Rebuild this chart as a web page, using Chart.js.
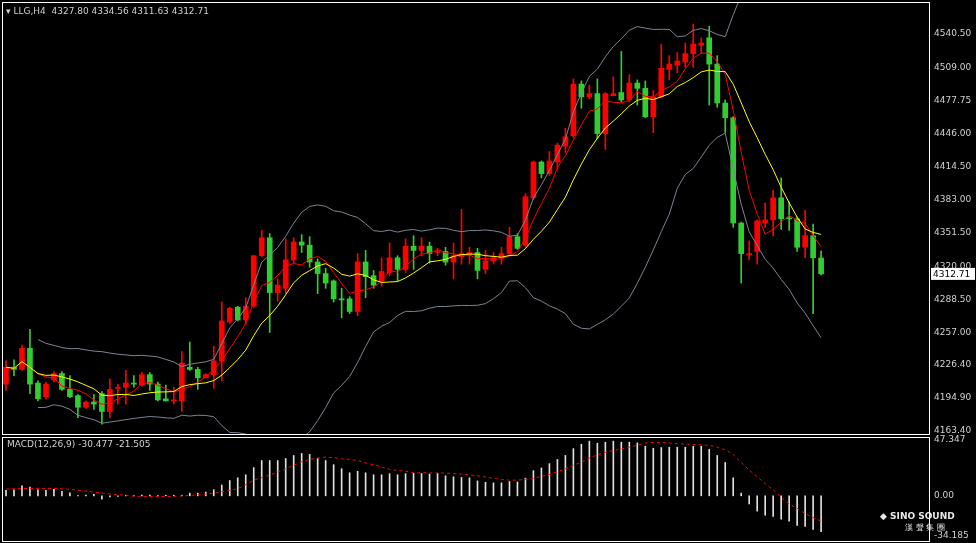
<!DOCTYPE html>
<html>
<head>
<meta charset="utf-8">
<script src="https://cdn.jsdelivr.net/npm/chart.js@4"></script>
<style>
  body { margin: 0; background: #000; width: 976px; height: 543px; overflow: hidden; position: relative; font-family: "DejaVu Sans", sans-serif; }
  canvas { position: absolute; left: 0; }
  #priceChart { top: 0; }
  #macdChart { top: 435px; }
  .lbl { position: absolute; color: #d0d0d0; font-size: 9px; white-space: nowrap; }
</style>
</head>
<body>
<canvas id="priceChart" width="976" height="435"></canvas>
<canvas id="macdChart" width="976" height="108"></canvas>
<div class="lbl" style="left:6px;top:6px;">&#9662; LLG,H4&nbsp; 4327.80 4334.56 4311.63 4312.71</div>
<div class="lbl" style="left:7px;top:439px;">MACD(12,26,9) -30.477 -21.505</div>
<div class="lbl" style="left:880px;top:511px;font-weight:bold;color:#e8e8e8;font-size:9px;">&#9670; SINO SOUND</div>
<div class="lbl" style="left:905px;top:522px;color:#e8e8e8;font-size:8px;">漢 聲 集 團</div>
<script>
const opens  = [4208,4224,4222,4242,4209,4196,4212,4218,4203,4197,4186,4191,4199,4182,4204,4205,4209,4207,4217,4208,4194,4192,4192,4224,4222,4214,4217,4230,4267,4281,4269,4282,4330,4347,4295,4299,4326,4343,4340,4324,4313,4306,4289,4289,4277,4324,4311,4306,4314,4328,4317,4339,4335,4339,4333,4334,4324,4329,4331,4333,4317,4325,4328,4332,4348,4340,4385,4419,4408,4419,4434,4444,4493,4481,4484,4446,4482,4485,4478,4494,4489,4462,4481,4507,4511,4514,4522,4530,4537,4512,4475,4461,4361,4331,4334,4361,4364,4385,4366,4365,4338,4349,4327.80];
const highs  = [4230,4231,4245,4260,4211,4210,4220,4220,4216,4198,4192,4198,4201,4213,4208,4221,4216,4219,4219,4210,4207,4205,4239,4248,4224,4218,4244,4286,4281,4282,4290,4330,4354,4351,4308,4346,4347,4350,4348,4327,4318,4307,4299,4291,4332,4335,4316,4328,4342,4330,4346,4349,4347,4343,4337,4338,4342,4374,4338,4337,4335,4333,4338,4357,4351,4389,4420,4420,4429,4437,4451,4498,4496,4492,4498,4485,4500,4524,4502,4497,4496,4487,4531,4520,4523,4532,4550,4537,4548,4520,4478,4462,4362,4344,4364,4380,4392,4404,4381,4367,4373,4360,4334.56];
const lows   = [4202,4216,4221,4199,4192,4194,4210,4202,4195,4176,4185,4184,4170,4176,4189,4189,4205,4206,4202,4192,4192,4189,4182,4221,4203,4214,4204,4211,4266,4268,4265,4281,4329,4257,4287,4294,4323,4333,4319,4294,4299,4286,4271,4275,4273,4290,4299,4301,4311,4306,4314,4317,4330,4323,4330,4321,4308,4322,4322,4308,4313,4322,4322,4330,4336,4338,4383,4404,4406,4412,4428,4442,4470,4479,4441,4431,4482,4476,4476,4473,4461,4447,4480,4497,4504,4509,4509,4522,4473,4471,4447,4357,4304,4326,4322,4357,4349,4355,4354,4334,4328,4275,4311.63];
const closes = [4224,4222,4242,4208,4194,4208,4218,4203,4196,4186,4191,4189,4182,4203,4205,4209,4208,4217,4208,4193,4192,4193,4228,4222,4214,4217,4230,4268,4280,4269,4282,4330,4347,4295,4302,4326,4343,4340,4324,4313,4304,4289,4288,4277,4324,4310,4302,4315,4328,4317,4339,4335,4339,4332,4334,4324,4330,4332,4333,4316,4325,4328,4332,4348,4337,4386,4419,4408,4420,4435,4443,4493,4481,4484,4446,4484,4484,4478,4494,4489,4462,4481,4508,4512,4515,4522,4531,4532,4512,4475,4461,4361,4332,4332,4363,4364,4385,4365,4365,4338,4349,4328,4312.71];
const macdHist = [4.6,5.2,8.4,7.5,5.2,4.6,5.5,3.8,2.6,0.3,0.6,1.2,-2.9,-1.0,-0.5,0.5,0.3,0.6,0.6,0.2,0.5,0.5,0.5,2.3,2.3,3.2,5.2,9.2,13,15.3,17.9,24,30,30,30,31.7,34.3,36,35.2,32,30,26.5,23,19.6,20.8,19.6,17.9,17.9,18.8,17.9,18.8,19.3,19,18.5,19,17,16.2,15.6,15.3,12.7,11.5,11,11,12.1,11.8,15,21.4,23.7,27.4,30.9,34.3,40.1,43.9,46.5,44.7,45.6,46.5,45.6,45.6,45,42.1,40.4,41,41.3,41.3,41.3,42.1,42.1,39.5,34.3,28.3,15.3,2.3,-6.9,-13,-16.5,-17.6,-19.9,-21.6,-25.1,-26,-28.6,-30.477];
const macdSignal = [5.8,6.0,6.1,6.3,6.3,6.3,6.2,6.0,5.5,4.8,4.0,3.2,2.4,1.7,1.0,0.5,-0.3,-0.5,-0.6,-0.6,-0.6,-0.4,-0.1,0.3,0.9,1.5,2.3,3.4,4.6,6.0,9.5,13.3,15.5,17.6,20.2,22.8,26,29,31,32,32.9,32.5,31.5,31,30,28,26.3,24.5,22.5,21.5,21,19.6,19.6,19.5,19.4,19.3,19,18.5,17.8,17,16,15,14,13.3,13.3,14,14.7,16.5,18.2,20.5,23,26,28.6,32,35,37,38.4,40,41.3,43,45,45.3,45.3,45,44.4,44,43.6,43.3,43,41.3,39.2,35,28.3,21.9,16.2,10.4,5.2,-1.2,-6.9,-10.7,-15,-18.5,-21.505];
const priceTicks = [4163.40, 4194.90, 4226.40, 4257.00, 4288.50, 4320.00, 4351.50, 4383.00, 4414.50, 4446.00, 4477.75, 4509.00, 4540.50];
const macdTicks = [-34.185, 0, 47.347];

const SLOTS = 116;
const UP = '#ff0000', DOWN = '#32cd32', BAND = '#7a8494';
const labels = Array.from({length: SLOTS}, (_, i) => i);
const n = closes.length;

// moving averages and bollinger bands from the closes
const sma = (arr, p, i) => {
  const s = arr.slice(Math.max(0, i - p + 1), i + 1);
  return s.reduce((a, b) => a + b, 0) / s.length;
};
const ma5 = closes.map((_, i) => sma(closes, 5, i));
const ma10 = closes.map((_, i) => sma(closes, 10, i));
const bbUp = [], bbLo = [];
closes.forEach((_, i) => {
  const s = closes.slice(Math.max(0, i - 19), i + 1);
  const m = s.reduce((a, b) => a + b, 0) / s.length;
  const sd = Math.sqrt(s.reduce((a, b) => a + (b - m) ** 2, 0) / s.length);
  bbUp.push(i < 4 ? null : m + 2 * sd);
  bbLo.push(i < 4 ? null : m - 2 * sd);
});

const candleColor = closes.map((c, i) => c >= opens[i] ? UP : DOWN);

const frame = {
  id: 'frame',
  afterDraw(chart) {
    const {ctx, chartArea: a} = chart;
    ctx.save();
    ctx.strokeStyle = '#ffffff';
    ctx.lineWidth = 1;
    ctx.strokeRect(a.left + 0.5, a.top + 0.5, a.right - a.left, a.bottom - a.top);
    ctx.restore();
  }
};

const lastPrice = {
  id: 'lastPrice',
  afterDraw(chart) {
    const {ctx, chartArea: a, scales} = chart;
    const y = scales.y.getPixelForValue(closes[n - 1]);
    ctx.save();
    ctx.fillStyle = '#ffffff';
    ctx.fillRect(a.right + 2, y - 6, 44, 12);
    ctx.fillStyle = '#000';
    ctx.font = '9px "DejaVu Sans"';
    ctx.textBaseline = 'middle';
    ctx.fillText(closes[n - 1].toFixed(2), a.right + 4, y + 0.5);
    ctx.restore();
  }
};

const lineDs = (data, color, extra = {}) => Object.assign({
  type: 'line', data, borderColor: color, borderWidth: 1, pointRadius: 0, tension: 0, fill: false
}, extra);

const axisY = (min, max, ticks, fmt) => ({
  position: 'right', min, max,
  afterBuildTicks: s => { s.ticks = ticks.map(v => ({value: v})); },
  afterFit: s => { s.width = 47; s.paddingTop = 0; s.paddingBottom = 0; },
  grid: { display: false, drawOnChartArea: false, drawTicks: true, tickLength: 3, tickColor: '#ffffff' },
  border: { display: false },
  ticks: { color: '#d0d0d0', font: { size: 9, family: 'DejaVu Sans' }, padding: 2, autoSkip: false, callback: fmt }
});

const axisX = { offset: true, display: false, grid: { display: false } };

new Chart(document.getElementById('priceChart'), {
  type: 'bar',
  data: {
    labels: labels,
    datasets: [
      lineDs(bbUp, BAND),
      lineDs(bbLo, BAND),
      { data: highs.map((h, i) => [lows[i], h]), backgroundColor: candleColor, barThickness: 1, grouped: false, order: 2 },
      { data: opens.map((o, i) => [o, closes[i]]), backgroundColor: candleColor, barThickness: 5, minBarLength: 1, grouped: false, order: 1 },
      lineDs(ma10, '#ffff00', { order: 0 }),
      lineDs(ma5, '#ff0000', { order: 0 })
    ]
  },
  options: {
    responsive: false, animation: false,
    layout: { padding: { left: 2, top: 2, right: 0, bottom: 1 } },
    plugins: { legend: { display: false }, tooltip: { enabled: false } },
    scales: {
      x: axisX,
      y: axisY(4160.6, 4571, priceTicks, v => v.toFixed(2))
    }
  },
  plugins: [frame, lastPrice]
});

new Chart(document.getElementById('macdChart'), {
  type: 'bar',
  data: {
    labels: labels,
    datasets: [
      { data: macdHist, backgroundColor: '#e0e0e0', barThickness: 1, order: 2 },
      lineDs(macdSignal, '#ff0000', { borderDash: [3, 3], order: 1 })
    ]
  },
  options: {
    responsive: false, animation: false,
    layout: { padding: { left: 2, top: 2, right: 0, bottom: 2 } },
    plugins: { legend: { display: false }, tooltip: { enabled: false } },
    scales: {
      x: axisX,
      y: axisY(-38.4, 50, macdTicks, v => v.toFixed(v === 0 ? 2 : 3))
    }
  },
  plugins: [frame]
});
</script>
</body>
</html>
